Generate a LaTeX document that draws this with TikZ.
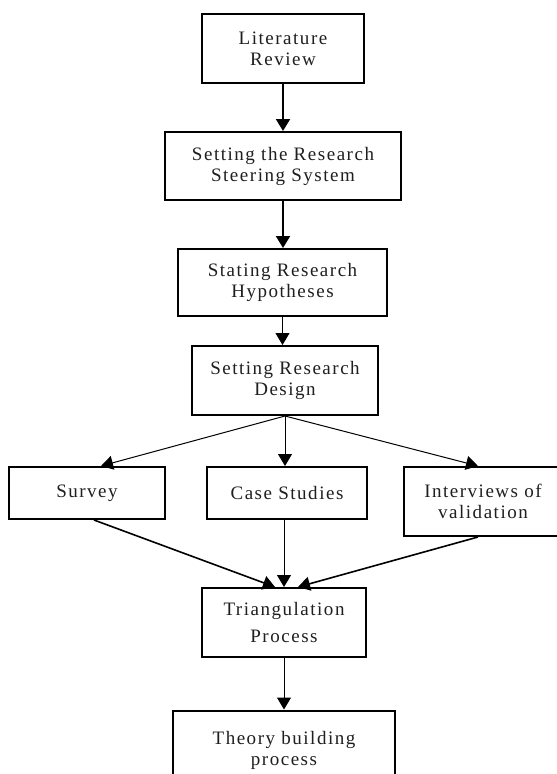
\documentclass[tikz,border=0pt]{standalone}
\usepackage{fontspec}
\setmainfont[LetterSpace=8]{Liberation Serif}
\usetikzlibrary{arrows.meta,positioning}
\begin{document}
\begin{tikzpicture}[x=1pt,y=-1pt,
  box/.style={draw, line width=2pt, align=center, font=\fontsize{19}{21}\selectfont, inner sep=0pt, text=black!88},
  thickarrow/.style={line width=2pt, -{Triangle[length=12pt,width=14pt]}},
  thinarrow/.style={line width=1pt, -{Triangle[length=12pt,width=14pt]}}]
\useasboundingbox (0,0) rectangle (557,774);
\fill[white] (0,0) rectangle (557,774);
\node[box, minimum width=162pt, minimum height=69pt] (lit) at (283,48.5) {Literature\\Review};
\node[box, minimum width=236pt, minimum height=68pt] (steer) at (283,166) {Setting the Research\\Steering System};
\node[box, minimum width=209pt, minimum height=67pt] (hyp) at (282.5,282.5) {Stating Research\\Hypotheses};
\node[box, minimum width=186pt, minimum height=69pt] (design) at (285,380.5) {Setting Research\\Design};
\node[box, minimum width=156pt, minimum height=52pt] (survey) at (87,493) {Survey};
\node[box, minimum width=160pt, minimum height=52pt] (case) at (287,493) {Case Studies};
\node[box, minimum width=158pt, minimum height=69pt] (inter) at (483,501.5) {Interviews of\\validation};
\node[box, minimum width=164pt, minimum height=69pt, font=\fontsize{19}{27}\selectfont] (tri) at (284,622.5) {Triangulation\\Process};
\node[box, minimum width=222pt, minimum height=79pt] (theory) at (284,750) {Theory building\\process};
\draw[thickarrow] (lit.south) -- (lit.south |- steer.north);
\draw[thickarrow] (steer.south) -- (steer.south |- hyp.north);
\draw[thinarrow] (hyp.south) -- (hyp.south |- design.north);
\draw[thinarrow] (design.south) -- ([xshift=14pt]survey.north);
\draw[thinarrow] (design.south) -- (design.south |- case.north);
\draw[thinarrow] (design.south) -- ([xshift=-5pt]inter.north);
\draw[thinarrow, line width=1.6pt] ([xshift=7pt]survey.south) -- ([xshift=-9pt]tri.north);
\draw[thinarrow] (case.south -| tri.north) -- (tri.north);
\draw[thinarrow, line width=1.6pt] ([xshift=-5pt]inter.south) -- ([xshift=14pt]tri.north);
\draw[thinarrow] (tri.south) -- (tri.south |- theory.north);
\end{tikzpicture}
\end{document}
